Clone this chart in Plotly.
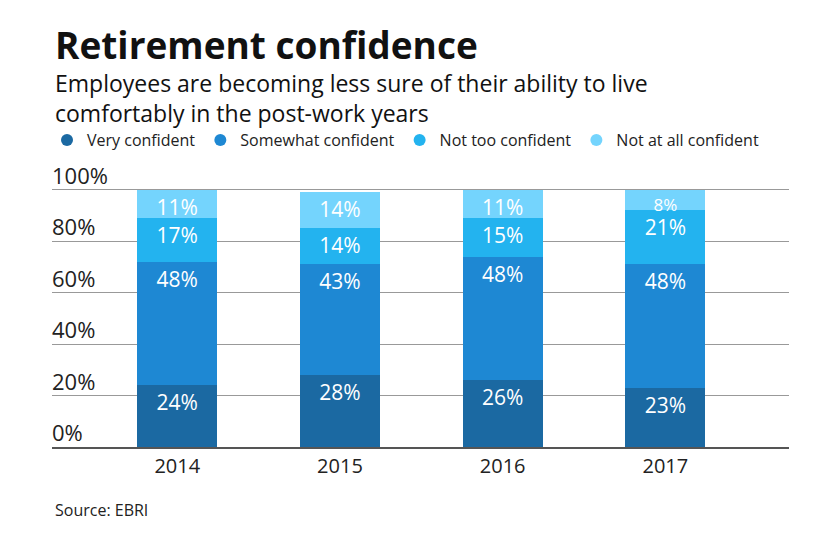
import plotly.graph_objects as go

years = ['2014', '2015', '2016', '2017']
very = [24, 28, 26, 23]
somewhat = [48, 43, 48, 48]
not_too = [17, 14, 15, 21]
not_at_all = [11, 14, 11, 8]

names = ['Very confident', 'Somewhat confident', 'Not too confident', 'Not at all confident']
colors = ['#1b69a2', '#1e88d3', '#23b3ef', '#74d4fd']
series = [very, somewhat, not_too, not_at_all]

y_ticks = [0, 20, 40, 60, 80, 100]

FONT = 'Open Sans'
W, H = 840, 547
OFF = 8  # page body margin in the screenshot
L, R, T, B = 52 - OFF, 51 + OFF, 164 - OFF, 100 + OFF

def px(x, y):
    # pixel position (as seen in screenshot) -> paper coords
    x, y = x - OFF, y - OFF
    return (x - L) / (W - L - R), (H - B - y) / (H - T - B)

fig = go.Figure()
for name, vals, col in zip(names, series, colors):
    # thin segments get a slightly smaller label so it doesn't run into the next one
    sizes = [21 if v >= 10 else 17 for v in vals]
    fig.add_trace(go.Bar(
        x=years, y=vals, name=name, marker_color=col, marker_line_width=0,
        text=[f'{v}%' for v in vals], textposition='inside', insidetextanchor='end',
        textfont=dict(family=FONT, size=sizes, color='white'), constraintext='none',
        showlegend=False, width=0.49,
    ))
    # circle markers for legend
    fig.add_trace(go.Scatter(
        x=[None], y=[None], mode='markers', name=name,
        marker=dict(symbol='circle', size=15, color=col),
    ))

fig.update_layout(
    barmode='stack',
    width=W, height=H,
    margin=dict(l=L, r=R, t=T, b=B),
    plot_bgcolor='white', paper_bgcolor='white',
    font=dict(family=FONT, color='#222'),
    legend=dict(orientation='h', x=px(47, 0)[0], y=px(0, 140)[1], xanchor='left', yanchor='middle',
                font=dict(size=16, color='#222'), itemsizing='constant', traceorder='normal'),
)

fig.update_xaxes(range=[-0.77, 3.76], showline=True, linecolor='#555', linewidth=1.5,
                 tickfont=dict(size=20, color='#222'), ticks='', showgrid=False)
fig.update_yaxes(range=[0, 110], tickvals=y_ticks, showticklabels=False,
                 showgrid=True, gridcolor='#999', gridwidth=1, zeroline=False, ticks='')

# y labels sit above their gridlines
for v in y_ticks:
    fig.add_annotation(x=0, xref='paper', y=v, yref='y', xanchor='left', yanchor='bottom',
                       text=f'{v}%', showarrow=False, xshift=-2, yshift=-2,
                       font=dict(family=FONT, size=22, color='#222'))

tx, ty = px(53, 45)
fig.add_annotation(x=tx, y=ty, xref='paper', yref='paper', xanchor='left', yanchor='middle',
                   text='<b>Retirement confidence</b>', showarrow=False,
                   font=dict(family=FONT, size=37, color='#111'))
sx, sy = px(53, 98)
fig.add_annotation(x=sx, y=sy, xref='paper', yref='paper', xanchor='left', yanchor='middle',
                   text='Employees are becoming less sure of their ability to live<br>comfortably in the post-work years',
                   showarrow=False, align='left',
                   font=dict(family=FONT, size=23, color='#111'))
cx, cy = px(53, 510)
fig.add_annotation(x=cx, y=cy, xref='paper', yref='paper', xanchor='left', yanchor='middle',
                   text='Source: EBRI', showarrow=False,
                   font=dict(family=FONT, size=16, color='#222'))

fig.write_html('out.html')
